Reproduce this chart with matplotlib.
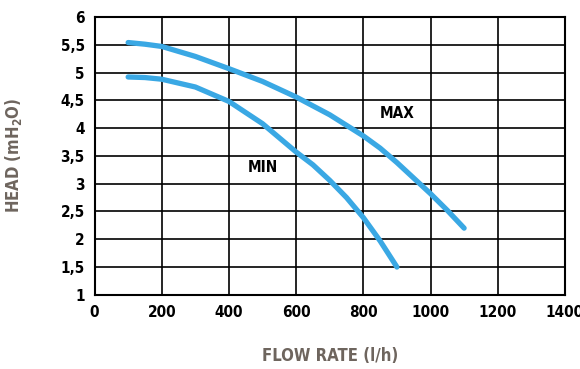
import matplotlib.pyplot as plt
from matplotlib.ticker import FuncFormatter

# pump curves
flow_max = [100, 150, 200, 300, 400, 500, 600, 700, 800, 850, 900, 950, 1000, 1050, 1100]
head_max = [5.54, 5.51, 5.47, 5.29, 5.07, 4.84, 4.56, 4.24, 3.86, 3.64, 3.38, 3.1, 2.82, 2.52, 2.2]
flow_min = [100, 150, 200, 300, 400, 500, 600, 650, 700, 750, 800, 850, 900]
head_min = [4.92, 4.91, 4.88, 4.74, 4.48, 4.08, 3.57, 3.34, 3.06, 2.75, 2.39, 1.97, 1.5]

xticks = [0, 200, 400, 600, 800, 1000, 1200, 1400]
yticks = [1, 1.5, 2, 2.5, 3, 3.5, 4, 4.5, 5, 5.5, 6]

blue = '#3aa8e4'
grey = '#6e655e'
plt.rcParams['font.family'] = ['DejaVu Sans']
plt.rcParams['font.stretch'] = 'condensed'

fig = plt.figure(figsize=(5.8, 3.69), dpi=100)
ax = fig.add_axes([0.163, 0.201, 0.811, 0.753])

ax.plot(flow_max, head_max, color=blue, lw=3.8, solid_capstyle='round', solid_joinstyle='round')
ax.plot(flow_min, head_min, color=blue, lw=3.8, solid_capstyle='round', solid_joinstyle='round')

ax.set_xlim(0, 1400)
ax.set_ylim(1, 6)
ax.set_xticks(xticks)
ax.set_yticks(yticks)
ax.yaxis.set_major_formatter(FuncFormatter(lambda v, p: ('%g' % v).replace('.', ',')))
ax.grid(True, color='black', lw=1.2)
for s in ax.spines.values():
    s.set_linewidth(1.5)
ax.tick_params(length=0, labelsize=11, pad=7)
for lab in ax.get_xticklabels() + ax.get_yticklabels():
    lab.set_fontweight('heavy')

ax.text(900, 4.27, 'MAX', fontsize=11, fontweight='heavy', ha='center', va='center')
ax.text(500, 3.3, 'MIN', fontsize=11, fontweight='heavy', ha='center', va='center')

ax.set_xlabel('FLOW RATE (l/h)', fontsize=12, fontweight='heavy', color=grey, labelpad=20)
ax.set_ylabel('HEAD (mH$_\\mathbf{2}$O)', fontsize=12, fontweight='heavy', color=grey, labelpad=26)

fig.savefig('out.png', dpi=100)
